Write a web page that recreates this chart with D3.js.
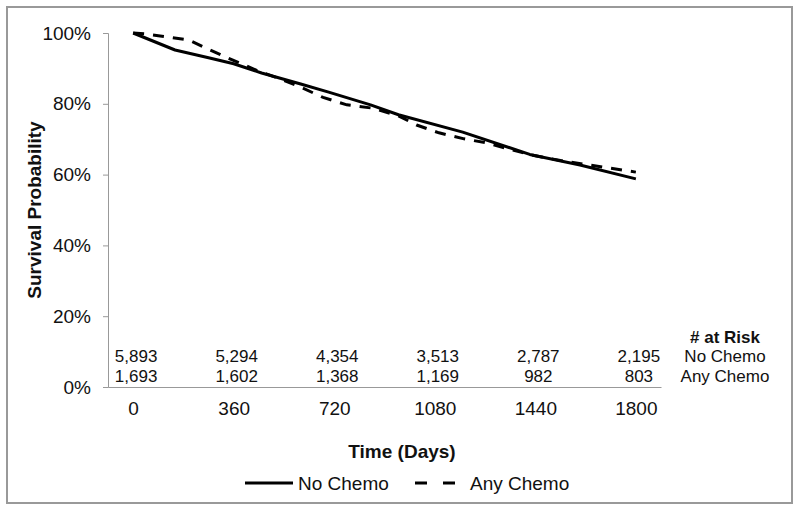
<!DOCTYPE html>
<html>
<head>
<meta charset="utf-8">
<script src="https://cdn.jsdelivr.net/npm/d3@7"></script>
<style>
  body { margin: 0; background: #fff; }
  text { font-family: "Liberation Sans", Arial, sans-serif; fill: #111; }
</style>
</head>
<body>
<script>
const dayTicks = [0, 360, 720, 1080, 1440, 1800];
const yTicks = [0, 0.2, 0.4, 0.6, 0.8, 1.0];

const noChemoDays = [0, 150, 270, 360, 460, 600, 700, 850, 950, 1180, 1420, 1600, 1800];
const noChemoSurv = [1.0, 0.952, 0.930, 0.913, 0.887, 0.856, 0.833, 0.797, 0.769, 0.720, 0.657, 0.627, 0.588];

const anyChemoDays = [0, 40, 90, 200, 275, 355, 450, 520, 600, 680, 765, 855, 950, 1015, 1095, 1185, 1270, 1355, 1440, 1530, 1610, 1700, 1800];
const anyChemoSurv = [1.0, 0.998, 0.992, 0.980, 0.952, 0.924, 0.892, 0.872, 0.847, 0.818, 0.797, 0.788, 0.766, 0.740, 0.718, 0.701, 0.689, 0.670, 0.653, 0.640, 0.630, 0.619, 0.607];

const atRiskNoChemo = ['5,893', '5,294', '4,354', '3,513', '2,787', '2,195'];
const atRiskAnyChemo = ['1,693', '1,602', '1,368', '1,169', '982', '803'];

const w = 800, h = 512;

const svg = d3.select('body').append('svg')
  .attr('width', w)
  .attr('height', h);

// outer frame
svg.append('rect')
  .attr('x', 7).attr('y', 7)
  .attr('width', 785).attr('height', 496)
  .attr('fill', 'none')
  .attr('stroke', '#999')
  .attr('stroke-width', 2);

const x = d3.scaleLinear().domain([-90, 1890]).range([108, 661]);
const y = d3.scaleLinear().domain([0, 1]).range([387, 33]);

// y axis
const yAxis = d3.axisLeft(y)
  .tickValues(yTicks)
  .tickSize(5)
  .tickPadding(12)
  .tickFormat(d3.format('.0%'));

const gy = svg.append('g')
  .attr('transform', 'translate(108,0)')
  .call(yAxis);
gy.select('.domain').attr('stroke', '#999');
gy.selectAll('.tick line').attr('stroke', '#999');
gy.selectAll('.tick text')
  .attr('font-size', 19)
  .attr('font-family', '"Liberation Sans", Arial, sans-serif')
  .attr('fill', '#111');

// x axis
const xAxis = d3.axisBottom(x)
  .tickValues(dayTicks)
  .tickSize(0)
  .tickPadding(15)
  .tickSizeOuter(0)
  .tickFormat(d3.format('d'));

const gx = svg.append('g')
  .attr('transform', 'translate(0,387)')
  .call(xAxis);
gx.select('.domain').attr('stroke', '#999');
gx.selectAll('.tick text')
  .attr('font-size', 19)
  .attr('font-family', '"Liberation Sans", Arial, sans-serif')
  .attr('fill', '#111');

// axis titles
svg.append('text')
  .attr('text-anchor', 'middle')
  .attr('transform', `translate(41, 210)rotate(-90)`)
  .attr('font-size', 19)
  .attr('font-weight', 'bold')
  .text('Survival Probability');

svg.append('text')
  .attr('text-anchor', 'middle')
  .attr('x', 402).attr('y', 458)
  .attr('font-size', 19)
  .attr('font-weight', 'bold')
  .text('Time (Days)');

// curves
const line = d3.line()
  .x(d => x(d[0]))
  .y(d => y(d[1]));

svg.append('path')
  .datum(noChemoDays.map((d, i) => [d, noChemoSurv[i]]))
  .attr('fill', 'none')
  .attr('stroke', '#000')
  .attr('stroke-width', 3)
  .attr('stroke-linejoin', 'round')
  .attr('d', line);

svg.append('path')
  .datum(anyChemoDays.map((d, i) => [d, anyChemoSurv[i]]))
  .attr('fill', 'none')
  .attr('stroke', '#000')
  .attr('stroke-width', 3)
  .attr('stroke-dasharray', '11,9')
  .attr('d', line);

// numbers at risk
svg.append('g').selectAll('text')
  .data(atRiskNoChemo)
  .enter().append('text')
  .attr('x', (d, i) => x(dayTicks[i]) + 3)
  .attr('y', 362)
  .attr('text-anchor', 'middle')
  .attr('font-size', 17)
  .text(d => d);

svg.append('g').selectAll('text')
  .data(atRiskAnyChemo)
  .enter().append('text')
  .attr('x', (d, i) => x(dayTicks[i]) + 3)
  .attr('y', 382)
  .attr('text-anchor', 'middle')
  .attr('font-size', 17)
  .text(d => d);

svg.append('text')
  .attr('x', 725).attr('y', 343)
  .attr('text-anchor', 'middle')
  .attr('font-size', 17)
  .attr('font-weight', 'bold')
  .text('# at Risk');
svg.append('text')
  .attr('x', 725).attr('y', 362)
  .attr('text-anchor', 'middle')
  .attr('font-size', 17)
  .text('No Chemo');
svg.append('text')
  .attr('x', 725).attr('y', 382)
  .attr('text-anchor', 'middle')
  .attr('font-size', 17)
  .text('Any Chemo');

// legend
const legend = svg.append('g');
legend.append('line')
  .attr('x1', 245).attr('x2', 293)
  .attr('y1', 483).attr('y2', 483)
  .attr('stroke', '#000').attr('stroke-width', 3);
legend.append('text')
  .attr('x', 298).attr('y', 490)
  .attr('font-size', 19)
  .text('No Chemo');
legend.append('line')
  .attr('x1', 415).attr('x2', 455)
  .attr('y1', 483).attr('y2', 483)
  .attr('stroke', '#000').attr('stroke-width', 3)
  .attr('stroke-dasharray', '12,16');
legend.append('text')
  .attr('x', 470).attr('y', 490)
  .attr('font-size', 19)
  .text('Any Chemo');
</script>
</body>
</html>
